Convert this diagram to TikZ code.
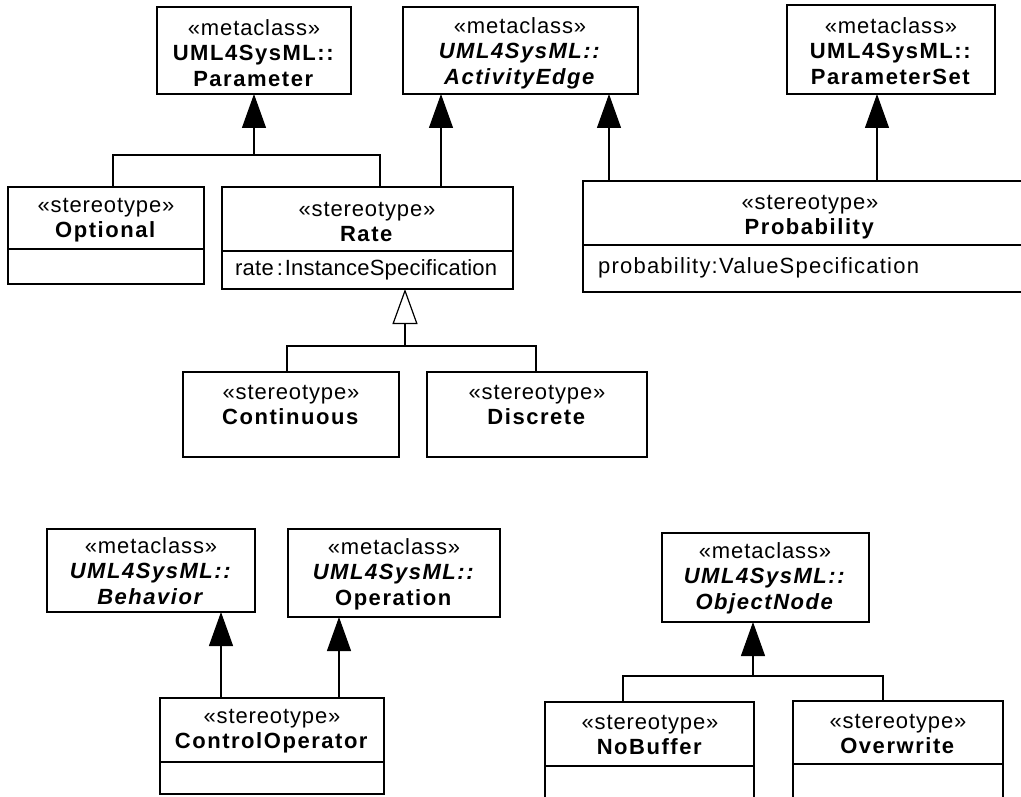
\documentclass[tikz,border=0pt]{standalone}
\usepackage{fontspec}
\setmainfont{Liberation Sans}[LetterSpace=4, BoldFeatures={LetterSpace=7}, BoldItalicFeatures={LetterSpace=7}]
\usetikzlibrary{arrows.meta,calc}
\newcommand\umlbox[5]{\node[box, minimum width={#4-#2}, minimum height={#5-#3}] (#1) at ({(#2+#4)/2},{(#3+#5)/2}) {};}
\begin{document}
\begin{tikzpicture}[x=1pt,y=-1pt,
  box/.style={draw, line width=1.2pt, rectangle, inner sep=0pt, outer sep=0pt},
  txt/.style={inner sep=0pt, align=center, font=\fontsize{22}{25.5}\selectfont},
  link/.style={line width=1.2pt},
  inh/.style={link, -{Triangle[length=34pt,width=24pt]}},
  gen/.style={link, -{Triangle[open,length=35pt,width=25pt,fill=white]}}
]
\useasboundingbox (0,0) rectangle (1021,797);
\clip (0,0) rectangle (1021,797);
\fill[white] (0,0) rectangle (1021,797);

% boxes
\umlbox{param}{157}{7}{351}{94}
\umlbox{ae}{403}{7}{638}{94}
\umlbox{ps}{787}{5}{995}{94}
\umlbox{opt}{8}{187}{204}{284}
\umlbox{rate}{222}{187}{513}{289}
\umlbox{prob}{583}{181}{1030}{292}
\umlbox{cont}{183}{372}{399}{457}
\umlbox{disc}{427}{372}{647}{457}
\umlbox{beh}{47}{529}{255}{612}
\umlbox{op}{288}{529}{500}{617}
\umlbox{ctrl}{160}{698}{384}{794}
\umlbox{obj}{662}{533}{869}{622}
\umlbox{nob}{545}{702}{754}{810}
\umlbox{ovw}{793}{701}{1003}{810}

% compartment dividers
\draw[link] (opt.west |- 0,249) -- (opt.east |- 0,249);
\draw[link] (rate.west |- 0,251) -- (rate.east |- 0,251);
\draw[link] (prob.west |- 0,245) -- (prob.east |- 0,245);
\draw[link] (ctrl.west |- 0,762) -- (ctrl.east |- 0,762);
\draw[link] (nob.west |- 0,766) -- (nob.east |- 0,766);
\draw[link] (ovw.west |- 0,764) -- (ovw.east |- 0,764);

% texts
\node[txt] (paramT) at (254,53) {«metaclass»\\\textbf{UML4SysML::}\\\textbf{Parameter}};
\node[txt] (aeT) at (520,53) {«metaclass»\\\textbf{\textit{UML4SysML::}}\\\textbf{\textit{ActivityEdge}}};
\node[txt] (psT) at (891,51) {«metaclass»\\\textbf{UML4SysML::}\\\textbf{ParameterSet}};
\node[txt] (optT) at (106,220) {«stereotype»\\\textbf{Optional}};
\node[txt] (rateT) at (367,222) {«stereotype»\\\textbf{Rate}};
\node[txt, anchor=west] (rateA) at (235,270) {\addfontfeature{LetterSpace=1}rate\hspace{3pt}:\hspace{2pt}InstanceSpecification};
\node[txt] (probT) at (810,217) {«stereotype»\\\textbf{Probability}};
\node[txt, anchor=west] (probA) at (598,268) {\addfontfeature{LetterSpace=5.5}probability:ValueSpecification};
\node[txt] (contT) at (291,405) {«stereotype»\\\textbf{Continuous}};
\node[txt] (discT) at (537,405) {«stereotype»\\\textbf{Discrete}};
\node[txt] (behT) at (151,571) {«metaclass»\\\textbf{\textit{UML4SysML::}}\\\textbf{\textit{Behavior}}};
\node[txt] (opT) at (394,574) {«metaclass»\\\textbf{\textit{UML4SysML::}}\\\textbf{Operation}};
\node[txt] (ctrlT) at (272,731) {«stereotype»\\\textbf{ControlOperator}};
\node[txt] (objT) at (765,578) {«metaclass»\\\textbf{\textit{UML4SysML::}}\\\textbf{\textit{ObjectNode}}};
\node[txt] (nobT) at (650,735) {«stereotype»\\\textbf{NoBuffer}};
\node[txt] (ovwT) at (898,734) {«stereotype»\\\textbf{Overwrite}};

% connectors
\coordinate (pj) at (254,155);
\draw[inh] (opt.north -| 113,0) |- (pj) -- (param.south -| pj);
\draw[link] (rate.north -| 380,0) |- (pj);
\draw[inh] (rate.north -| 441,0) -- (ae.south -| 441,0);
\draw[inh] (prob.north -| 609,0) -- (ae.south -| 609,0);
\draw[inh] (prob.north -| 877,0) -- (ps.south -| 877,0);
\coordinate (rj) at (405,346);
\draw[gen] (cont.north -| 287,0) |- (rj) -- (rate.south -| rj);
\draw[link] (disc.north -| 536,0) |- (rj);
\draw[inh] (ctrl.north -| 221,0) -- (beh.south -| 221,0);
\draw[inh] (ctrl.north -| 339,0) -- (op.south -| 339,0);
\coordinate (oj) at (753,676);
\draw[inh] (nob.north -| 623,0) |- (oj) -- (obj.south -| oj);
\draw[link] (ovw.north -| 883,0) |- (oj);
\end{tikzpicture}
\end{document}
